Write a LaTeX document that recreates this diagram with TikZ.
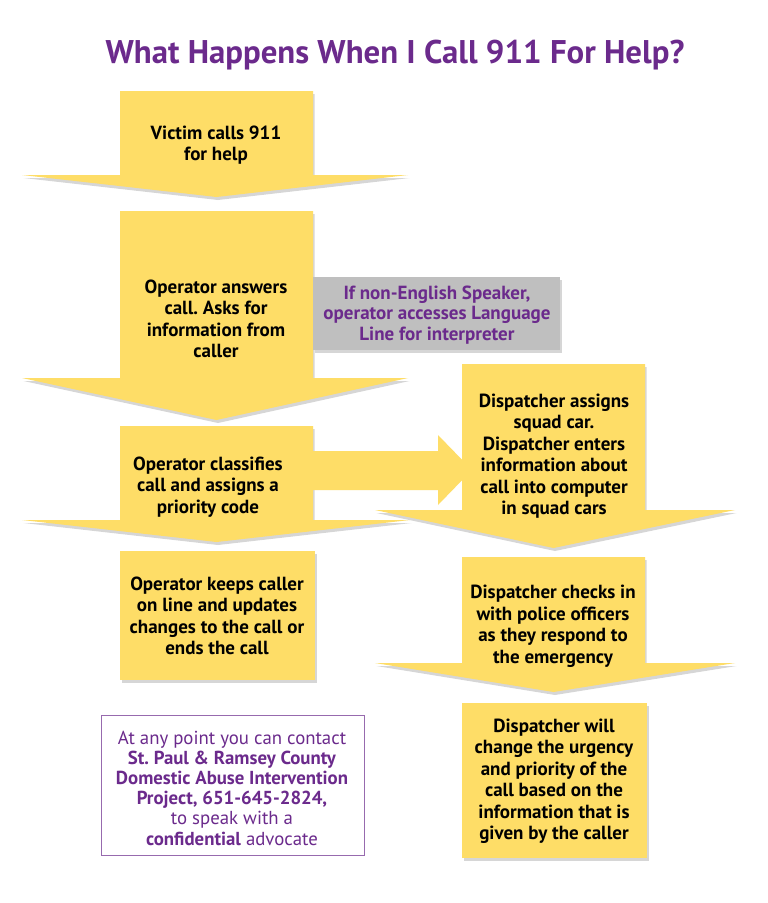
\documentclass[tikz,border=0pt]{standalone}
\usepackage{fontspec}
\setmainfont{PT Sans}
\frenchspacing
\definecolor{ay}{HTML}{FEDD67}
\definecolor{gb}{HTML}{BFBFBF}
\definecolor{pp}{HTML}{6B2A8C}
\tikzset{
  yshape/.style={fill=ay},
  shad/.style={fill=black,opacity=0.16},
  txt/.style={align=center,font=\fontsize{19}{21.5}\selectfont\bfseries,text=black,inner sep=0pt},
  ptxt/.style={align=center,font=\fontsize{18.8}{20.2}\selectfont,text=pp,inner sep=0pt},
}
\newcommand\darrow[7]{%
  \begin{scope}[xshift=1.5pt,yshift=-3pt]
    \fill[shad] (#1,#3) -- (#2,#3) -- (#2,#4) -- (#6,#4) -- ({(#1+#2)/2},#7) -- (#5,#4) -- (#1,#4) -- cycle;
  \end{scope}
  \fill[yshape] (#1,#3) -- (#2,#3) -- (#2,#4) -- (#6,#4) -- ({(#1+#2)/2},#7) -- (#5,#4) -- (#1,#4) -- cycle;
}
\newcommand\ybox[4]{%
  \fill[shad] ({#1+1.5},{#3+3}) rectangle ({#2+1.5},{#4+3});
  \fill[yshape] (#1,#3) rectangle (#2,#4);
}
\begin{document}
\begin{tikzpicture}[x=1pt,y=-1pt]
\useasboundingbox[fill=white] (0,0) rectangle (768,903);

% title
\node[font=\fontsize{32.8}{38}\selectfont\bfseries,text=pp,inner sep=0pt] (title) at (395,55) {What Happens When I Call 911 For Help?};

% shapes
\darrow{120}{313}{91}{175}{22}{408}{197}
\darrow{120}{313}{211}{378}{22}{408}{420}
\darrow{120}{313}{426}{520}{22}{410}{542}
\darrow{462}{645}{364}{510}{375}{735}{548}
\darrow{462}{645}{557}{663}{375}{735}{692}
% right-pointing arrow
\fill[yshape] (313,451) -- (438,451) -- (438,435) -- (472,470) -- (438,505) -- (438,490) -- (313,490) -- cycle;
\ybox{120}{315}{551}{680}
\ybox{462}{647}{703}{858}
% gray box
\fill[shad] (314.5,280) rectangle (561.5,353);
\fill[gb] (313,277) rectangle (560,350);
% purple outlined box
\draw[pp!70,line width=1pt] (101,715) rectangle (364,855);

% texts
\node[txt] (n1) at (216,145) {Victim calls 911\\for help};
\node[txt] (n2) at (216,319) {Operator answers\\call. Asks for\\information from\\caller};
\node[ptxt,font=\fontsize{19}{20.4}\selectfont\bfseries] (ng) at (437,315) {If non-English Speaker,\\operator accesses Language\\Line for interpreter};
\node[txt] (n3) at (208,487) {Operator classifies\\call and assigns a\\priority code};
\node[txt] (n4) at (554,456) {Dispatcher assigns\\squad car.\\Dispatcher enters\\information about\\call into computer\\in squad cars};
\node[txt] (n5) at (217,616) {Operator keeps caller\\on line and updates\\changes to the call or\\ends the call};
\node[txt] (n6) at (553,626) {Dispatcher checks in\\with police officers\\as they respond to\\the emergency};
\node[txt] (n7) at (554,781) {Dispatcher will\\change the urgency\\and priority of the\\call based on the\\information that is\\given by the caller};
\node[ptxt] (n8) at (232,788) {At any point you can contact\\\textbf{St. Paul \& Ramsey County}\\\textbf{Domestic Abuse Intervention}\\\textbf{Project, 651-645-2824,}\\to speak with a\\\textbf{confidential} advocate};
\end{tikzpicture}
\end{document}
